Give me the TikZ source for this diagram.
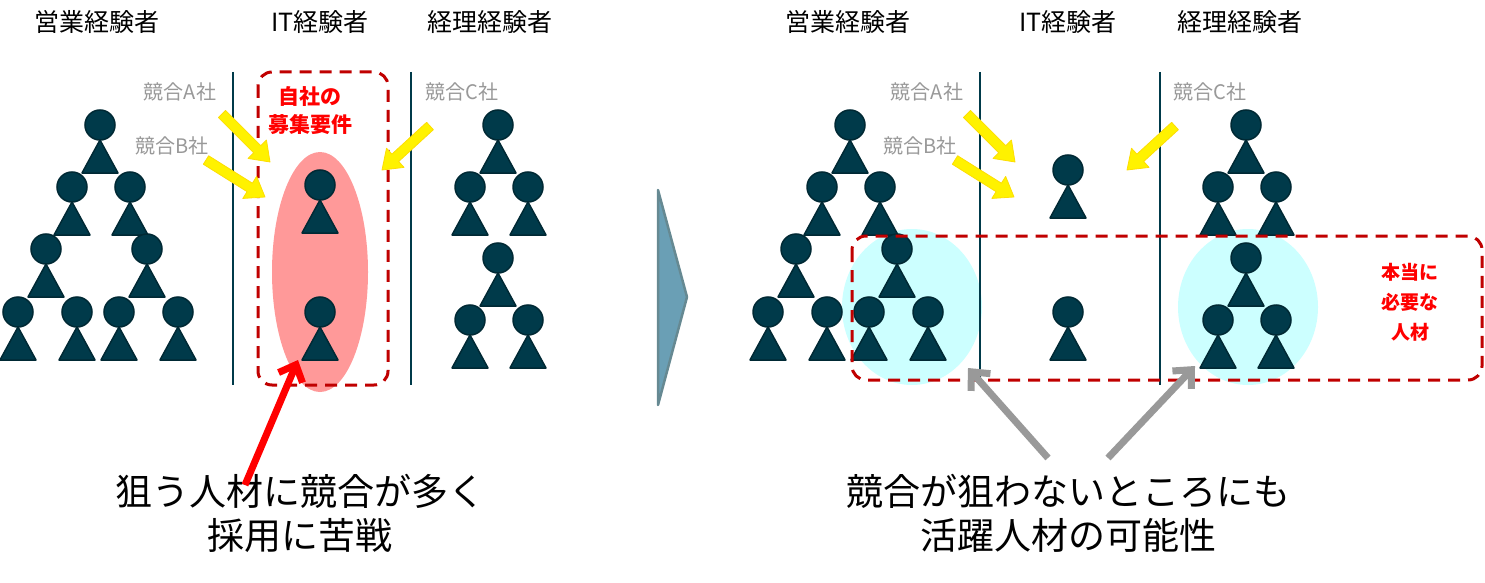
\documentclass[tikz,border=0pt]{standalone}
\usepackage{fontspec}
\setmainfont{Noto Sans CJK JP}
\usetikzlibrary{arrows.meta,calc}
\definecolor{navy}{HTML}{003A4A}
\definecolor{dred}{HTML}{C00000}
\definecolor{lcyan}{HTML}{CCFFFF}
\definecolor{pink}{HTML}{FF9999}
\definecolor{tri}{HTML}{6A9FB5}
\tikzset{
 x=1pt,y=-1pt,
 person/.pic={\fill[navy,draw=navy!70!black,line width=1.5pt,line join=round] (0,15)--(-18,48)--(18,48)--cycle; \fill[navy,draw=navy!70!black,line width=1.5pt] (0,0) circle (15);},
 hdr/.style={font=\fontsize{25}{27}\selectfont},
 comp/.style={font=\fontsize{20}{22}\selectfont,text=black!40},
 big/.style={font=\fontsize{37}{44}\selectfont,align=center},
 redl/.style={font=\bfseries\fontsize{21}{28}\selectfont,text=red,align=center},
 yarr/.style={draw=yellow!80!orange,fill=yellow,line width=0.8pt,line join=round},
 vline/.style={navy,line width=1.5pt},
 dbox/.style={dred,line width=3pt,dash pattern=on 12pt off 8pt,rounded corners=14pt},
 garr/.style={black!40,line width=7pt,-{Straight Barb[length=14pt,width=26pt,line width=7pt]}},
}
\newcommand{\yarrow}[3]{%
 \path (#1) coordinate (#3s) (#2) coordinate (#3e);
 \fill[yarr] let \p1=(#3s), \p2=(#3e), \n1={atan2(\y2-\y1,\x2-\x1)}, \n2={veclen(\x2-\x1,\y2-\y1)} in
  [shift={(#3s)},rotate=\n1]
  (0,-5)--(\n2-18,-5)--(\n2-18,-13)--(\n2,0)--(\n2-18,13)--(\n2-18,5)--(0,5)--cycle;}
\begin{document}
\begin{tikzpicture}
\useasboundingbox (0,0) rectangle (1485,583);
% left panel
\fill[pink] (320,272) ellipse (48 and 120);
\draw[dbox] (258,72) rectangle (388,385);
\draw[vline] (233,72) -- (233,385);
\draw[vline] (411,72) -- (411,385);
\foreach \x/\y in {100/125,72/187,130/187,46/249,147/249,18/312,77/312,119/312,178/312,320/185,320/312,498/125,470/187,528/187,498/258,470/320,528/320}
  \pic at (\x,\y) {person};
% right panel
\fill[lcyan] (912,307) ellipse (70 and 78);
\fill[lcyan] (1248,307) ellipse (70 and 78);
\draw[vline] (980,72) -- (980,385);
\draw[vline] (1160,72) -- (1160,385);
\foreach \x/\y in {850/125,822/187,880/187,796/249,897/249,768/312,827/312,869/312,928/312,1068/170,1068/312,1246/125,1218/187,1276/187,1246/258,1218/320,1276/320}
  \pic at (\x,\y) {person};
\draw[dbox] (852,236) rectangle (1482,380);
% yellow arrows
\yarrow{222,114}{270,162}{ya}
\yarrow{206,160}{265,197}{yb}
\yarrow{430,126}{382,170}{yc}
\yarrow{967,114}{1015,162}{yd}
\yarrow{955,160}{1014,197}{ye}
\yarrow{1175,126}{1127,170}{yf}
% big triangle arrow
\fill[fill=tri,draw=navy!60,line width=2.5pt,line join=round] (658,190) -- (687,297) -- (658,405) -- cycle;
% headers
\node[hdr] (h1) at (97,22) {営業経験者};
\node[hdr] (h2) at (320,22) {IT経験者};
\node[hdr] (h3) at (490,22) {経理経験者};
\node[hdr] (h4) at (848,22) {営業経験者};
\node[hdr] (h5) at (1068,22) {IT経験者};
\node[hdr] (h6) at (1240,22) {経理経験者};
% competitor labels
\node[comp] (ca) at (180,92) {競合A社};
\node[comp] (cb) at (172,146) {競合B社};
\node[comp] (cc) at (462,92) {競合C社};
\node[comp] (cd) at (927,92) {競合A社};
\node[comp] (ce) at (920,146) {競合B社};
\node[comp] (cf) at (1210,92) {競合C社};
\node[redl] (req) at (310,111) {自社の\\募集要件};
\node[redl,font=\bfseries\fontsize{19}{30}\selectfont] (need) at (1410,302) {本当に\\必要な\\人材};
% bottom texts
\node[big] (t1) at (300,513) {狙う人材に競合が多く\\採用に苦戦};
\node[big] (t2) at (1068,513) {競合が狙わないところにも\\活躍人材の可能性};
% arrows
\coordinate (rs) at (245,485); \coordinate (re) at (298,360);
\draw[red,line width=7pt,-{Straight Barb[length=14pt,width=26pt,line width=7pt]}] (rs) -- (re);
\coordinate (g1s) at (1048,458); \coordinate (g1e) at (968,368);
\coordinate (g2s) at (1108,458); \coordinate (g2e) at (1195,366);
\draw[garr] (g1s) -- (g1e);
\draw[garr] (g2s) -- (g2e);
\end{tikzpicture}
\end{document}
